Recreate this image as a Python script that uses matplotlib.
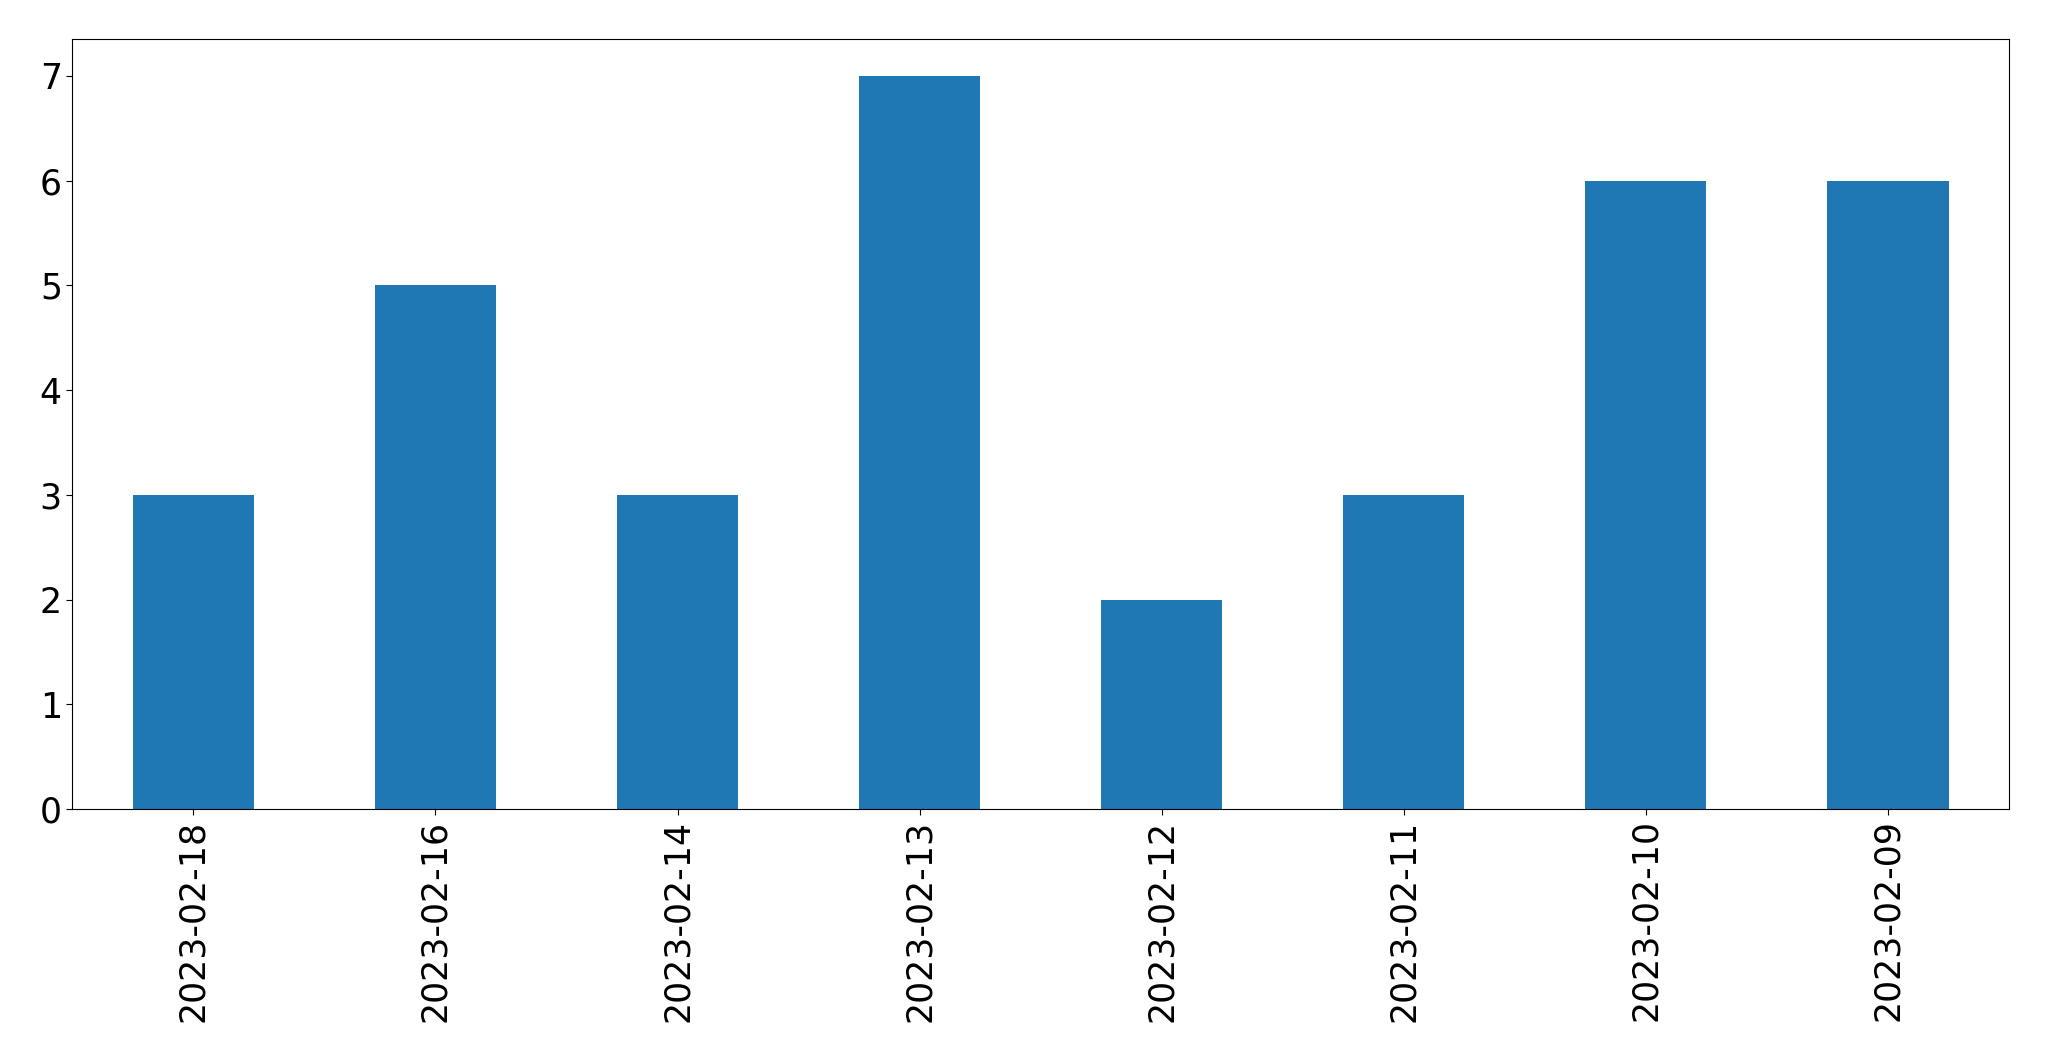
import matplotlib
matplotlib.use("Agg")
import matplotlib.pyplot as plt

# Daten
fechas = ["2023-02-18", "2023-02-16", "2023-02-14", "2023-02-13",
          "2023-02-12", "2023-02-11", "2023-02-10", "2023-02-09"]
conteos = [3, 5, 3, 7, 2, 3, 6, 6]

fig, ax = plt.subplots(figsize=(20.49, 10.61), dpi=100)
fig.subplots_adjust(left=0.0353, right=0.9805, top=0.963, bottom=0.2375)

pos = range(len(fechas))
ax.bar(pos, conteos, width=0.5, color="#1f77b4")
ax.set_xlim(-0.5, len(fechas) - 0.5)
ax.set_ylim(0, max(conteos) * 1.05)
ax.set_xticks(list(pos))
ax.set_xticklabels(fechas, rotation=90)
ax.tick_params(axis="both", labelsize=25, length=4)

fig.savefig("out.png", dpi=100)
